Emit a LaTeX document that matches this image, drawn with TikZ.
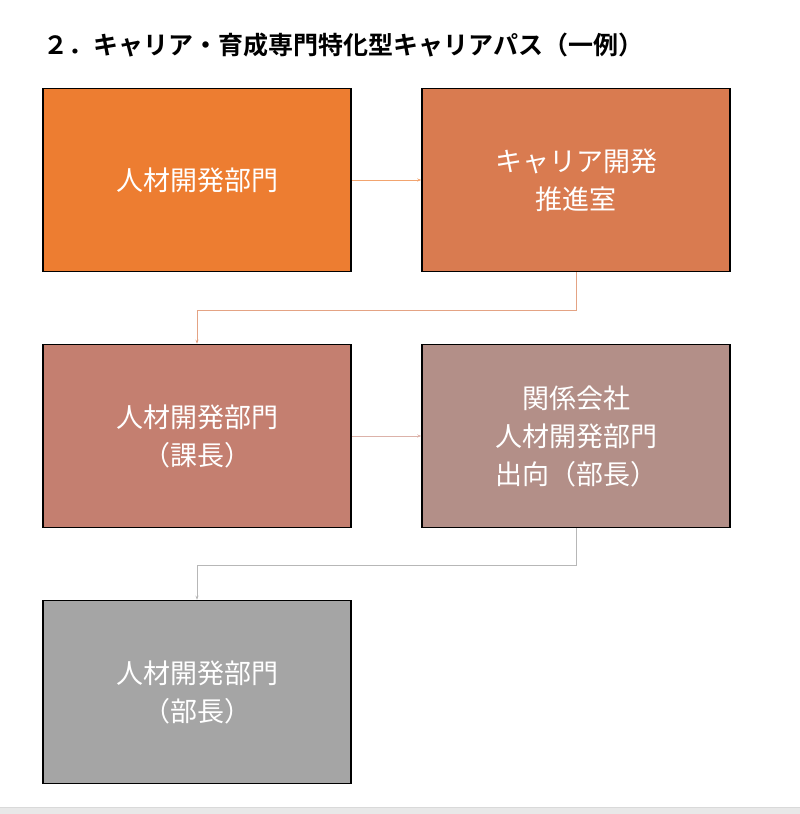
\documentclass[tikz,border=0pt]{standalone}
\usepackage{fontspec}
\setmainfont{Noto Sans CJK JP}
\newfontfamily\cjkb{Noto Sans CJK JP Bold}
\usetikzlibrary{arrows.meta}
\definecolor{cA}{HTML}{ED7D31}
\definecolor{cB}{HTML}{D97B50}
\definecolor{cC}{HTML}{C47F70}
\definecolor{cD}{HTML}{B38F88}
\definecolor{cE}{HTML}{A5A5A5}
\begin{document}
\begin{tikzpicture}[x=1pt,y=-1pt,
  box/.style={draw=black,line width=1.5pt,minimum width=308pt,minimum height=183pt,text=white,font=\fontsize{27}{38}\selectfont,align=center,inner sep=0pt},
  conn/.style={line width=0.6pt,-{Stealth[length=4pt,width=3pt]}}]
\useasboundingbox (0,0) rectangle (800,814);
\fill[gray!18] (0,807) rectangle (800,814);
\draw[gray!30] (0,807) -- (800,807);
\node[anchor=west,font=\cjkb\fontsize{25}{30}\selectfont] (title) at (40,45) {２．キャリア・育成専門特化型キャリアパス（一例）};
\node[box,fill=cA] (a) at (197,180) {人材開発部門};
\node[box,fill=cB] (b) at (576,180) {キャリア開発\\推進室};
\node[box,fill=cC] (c) at (197,436) {人材開発部門\\（課長）};
\node[box,fill=cD] (d) at (576,436) {関係会社\\人材開発部門\\出向（部長）};
\node[box,fill=cE] (e) at (197,692) {人材開発部門\\（部長）};
\draw[conn,draw=cA!70] (a) -- (b);
\draw[conn,draw=cB!70] (b.south) -- ++(0,38) -| (c.north);
\draw[conn,draw=cC!60] (c) -- (d);
\draw[conn,draw=cE!80] (d.south) -- ++(0,37) -| (e.north);
\end{tikzpicture}
\end{document}
